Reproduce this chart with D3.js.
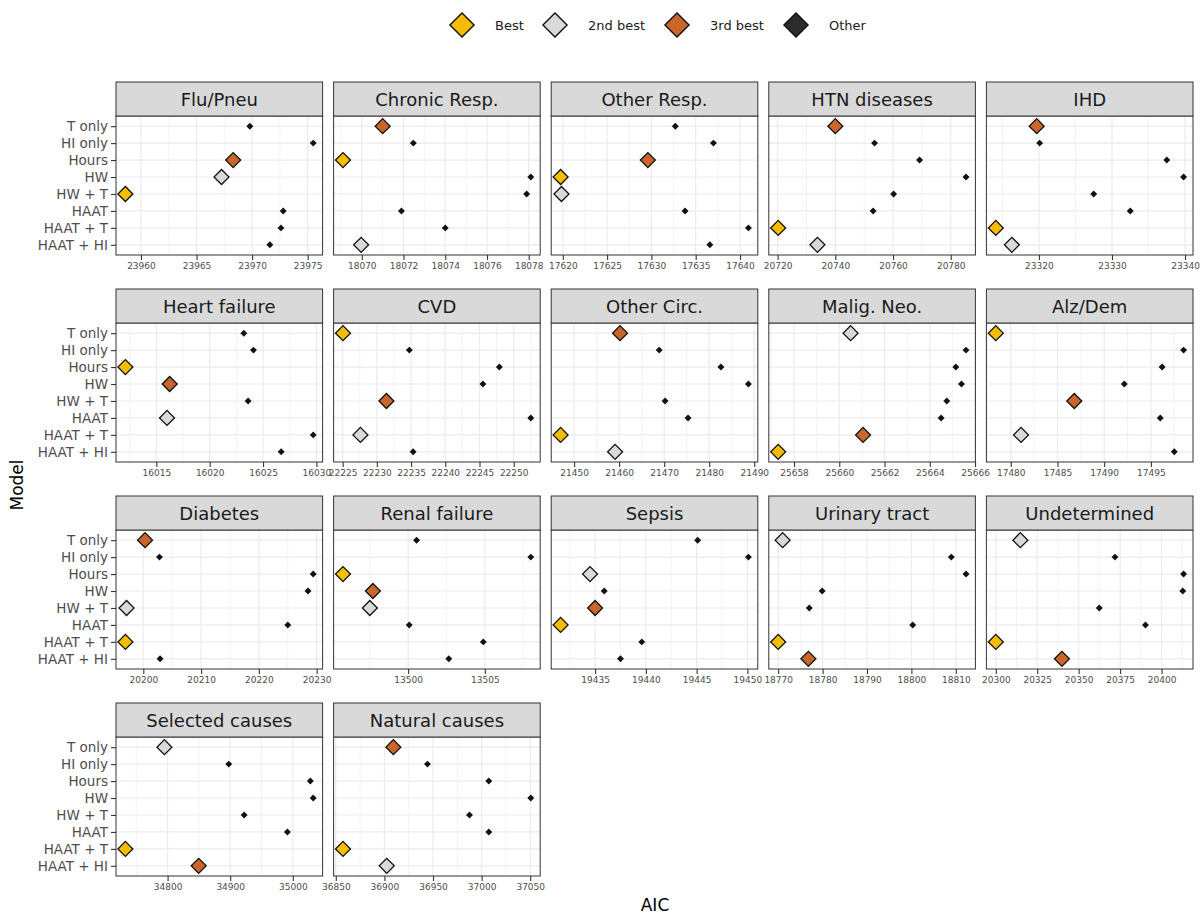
<!DOCTYPE html>
<html>
<head>
<meta charset="utf-8">
<script src="https://cdn.jsdelivr.net/npm/d3@7"></script>
<style>
  body { margin: 0; background: #fff; }
  svg { display: block; font-family: "DejaVu Sans", sans-serif; }
</style>
</head>
<body>
<div id="chart"></div>
<script>
// model names, top to bottom
const models = ['T only', 'HI only', 'Hours', 'HW', 'HW + T', 'HAAT', 'HAAT + T', 'HAAT + HI'];

const causes = ['Flu/Pneu', 'Chronic Resp.', 'Other Resp.', 'HTN diseases', 'IHD',
    'Heart failure', 'CVD', 'Other Circ.', 'Malig. Neo.', 'Alz/Dem',
    'Diabetes', 'Renal failure', 'Sepsis', 'Urinary tract', 'Undetermined',
    'Selected causes', 'Natural causes'];

// AIC per model (same order as models)
const aicFluPneu = [23969.8, 23975.5, 23968.3, 23967.25, 23958.6, 23972.8, 23972.6, 23971.6];
const aicChronicResp = [18071.0, 18072.47, 18069.1, 18078.1, 18077.9, 18071.9, 18074.0, 18069.97];
const aicOtherResp = [17632.7, 17637.0, 17629.6, 17619.75, 17619.85, 17633.8, 17640.95, 17636.6];
const aicHtn = [20740.0, 20753.6, 20769.2, 20785.3, 20760.2, 20753.1, 20720.2, 20733.8];
const aicIhd = [23319.7, 23320.1, 23337.5, 23339.8, 23327.5, 23332.5, 23314.1, 23316.3];
const aicHeartFailure = [16023.2, 16024.1, 16012.1, 16016.25, 16023.6, 16016.0, 16029.7, 16026.7];
const aicCvd = [22225.05, 22234.75, 22247.9, 22245.5, 22231.4, 22252.5, 22227.6, 22235.3];
const aicOtherCirc = [21460.2, 21468.9, 21482.6, 21488.7, 21470.2, 21475.3, 21447.0, 21459.1];
const aicMaligNeo = [25660.5, 25665.6, 25665.15, 25665.4, 25664.75, 25664.5, 25661.05, 25657.3];
const aicAlzDem = [17478.4, 17498.5, 17496.2, 17492.15, 17486.8, 17496.0, 17481.1, 17497.5];
const aicDiabetes = [20200.3, 20202.8, 20229.4, 20228.5, 20197.1, 20225.0, 20196.9, 20202.9];
const aicRenal = [13500.55, 13508.0, 13495.75, 13497.7, 13497.5, 13500.07, 13504.9, 13502.65];
const aicSepsis = [19445.1, 19450.1, 19434.5, 19435.9, 19435.0, 19431.6, 19439.6, 19437.5];
const aicUrinary = [18771.0, 18809.0, 18812.3, 18779.9, 18777.0, 18800.3, 18770.0, 18776.8];
const aicUndetermined = [20314.8, 20371.9, 20413.3, 20412.8, 20362.4, 20390.3, 20300.0, 20339.9];
const aicSelected = [34794.9, 34897.7, 35028.0, 35032.6, 34922.3, 34991.4, 34732.6, 34849.7];
const aicNatural = [36909.2, 36944.3, 37007.4, 37050.6, 36987.5, 37007.4, 36857.4, 36902.4];

// x tick labels per panel
const ticksFluPneu = [23960, 23965, 23970, 23975];
const ticksChronicResp = [18070, 18072, 18074, 18076, 18078];
const ticksOtherResp = [17620, 17625, 17630, 17635, 17640];
const ticksHtn = [20720, 20740, 20760, 20780];
const ticksIhd = [23320, 23330, 23340];
const ticksHeartFailure = [16015, 16020, 16025, 16030];
const ticksCvd = [22225, 22230, 22235, 22240, 22245, 22250];
const ticksOtherCirc = [21450, 21460, 21470, 21480, 21490];
const ticksMaligNeo = [25658, 25660, 25662, 25664, 25666];
const ticksAlzDem = [17480, 17485, 17490, 17495];
const ticksDiabetes = [20200, 20210, 20220, 20230];
const ticksRenal = [13500, 13505];
const ticksSepsis = [19435, 19440, 19445, 19450];
const ticksUrinary = [18770, 18780, 18790, 18800, 18810];
const ticksUndetermined = [20300, 20325, 20350, 20375, 20400];
const ticksSelected = [34800, 34900, 35000];
const ticksNatural = [36850, 36900, 36950, 37000, 37050];

const rankNames = ['Best', '2nd best', '3rd best', 'Other'];
const rankColors = ['#F5BD00', '#D9D9D9', '#C8662C', '#2B2B2B'];

const aicByCause = [aicFluPneu, aicChronicResp, aicOtherResp, aicHtn, aicIhd,
    aicHeartFailure, aicCvd, aicOtherCirc, aicMaligNeo, aicAlzDem,
    aicDiabetes, aicRenal, aicSepsis, aicUrinary, aicUndetermined,
    aicSelected, aicNatural];
const ticksByCause = [ticksFluPneu, ticksChronicResp, ticksOtherResp, ticksHtn, ticksIhd,
    ticksHeartFailure, ticksCvd, ticksOtherCirc, ticksMaligNeo, ticksAlzDem,
    ticksDiabetes, ticksRenal, ticksSepsis, ticksUrinary, ticksUndetermined,
    ticksSelected, ticksNatural];

//////////// layout /////////////////
const width = 1201, height = 915;
const panelLeft = 116, panelW = 206.6, colStep = 217.6;
const firstTop = 82, rowStep = 207, stripH = 34, panelH = 139;
const ncol = 5;

const svg = d3.select('#chart').append('svg')
        .attr('width', width)
        .attr('height', height);

const diamond = function (area) {
    return d3.symbol().type(d3.symbolSquare).size(area)();
};

causes.forEach(function (cause, i) {
    let col = i % ncol, row = Math.floor(i / ncol);
    let x0 = panelLeft + col * colStep;
    let top = firstTop + row * rowStep;
    let pTop = top + stripH;
    let vals = aicByCause[i];
    let ticks = ticksByCause[i];

    // rank the models by AIC (lowest = best)
    let order = d3.range(vals.length).sort(function (a, b) { return vals[a] - vals[b]; });
    let rank = vals.map(function () { return 3; });
    order.slice(0, 3).forEach(function (m, k) { rank[m] = k; });
    let pts = models.map(function (m, k) { return {model: m, aic: vals[k], rank: rank[k]}; });

    // ggplot style 5% expansion
    let lo = d3.min(vals), hi = d3.max(vals), pad = (hi - lo) * 0.05;
    let x = d3.scaleLinear().domain([lo - pad, hi + pad]).range([x0, x0 + panelW]);
    let y = d3.scalePoint().domain(models).range([pTop, pTop + panelH]).padding(0.6);

    let g = svg.append('g').attr('class', 'panel');

    g.append('rect')
            .attr('x', x0).attr('y', pTop)
            .attr('width', panelW).attr('height', panelH)
            .attr('fill', '#fff');

    // minor grid: midpoints between breaks
    let step = ticks.length > 1 ? ticks[1] - ticks[0] : 1;
    let minor = d3.range(ticks[0] - step / 2, ticks[ticks.length - 1] + step, step)
            .filter(function (v) { return v > x.domain()[0] && v < x.domain()[1]; });
    g.selectAll('line.minor').data(minor).enter().append('line')
            .attr('class', 'minor')
            .attr('x1', function (d) { return x(d); })
            .attr('x2', function (d) { return x(d); })
            .attr('y1', pTop).attr('y2', pTop + panelH)
            .attr('stroke', '#EBEBEB').attr('stroke-width', 0.6);
    g.selectAll('line.vmajor').data(ticks).enter().append('line')
            .attr('class', 'vmajor')
            .attr('x1', function (d) { return x(d); })
            .attr('x2', function (d) { return x(d); })
            .attr('y1', pTop).attr('y2', pTop + panelH)
            .attr('stroke', '#EBEBEB').attr('stroke-width', 1.2);
    g.selectAll('line.hmajor').data(models).enter().append('line')
            .attr('class', 'hmajor')
            .attr('x1', x0).attr('x2', x0 + panelW)
            .attr('y1', function (d) { return y(d); })
            .attr('y2', function (d) { return y(d); })
            .attr('stroke', '#EBEBEB').attr('stroke-width', 1.2);

    // points: others small, ranked ones big on top
    g.selectAll('path.other').data(pts.filter(function (d) { return d.rank === 3; }))
            .enter().append('path')
            .attr('class', 'other')
            .attr('d', diamond(24))
            .attr('transform', function (d) { return 'translate(' + x(d.aic) + ',' + y(d.model) + ') rotate(45)'; })
            .attr('fill', '#111');
    g.selectAll('path.ranked').data(pts.filter(function (d) { return d.rank < 3; }))
            .enter().append('path')
            .attr('class', 'ranked')
            .attr('d', diamond(112))
            .attr('transform', function (d) { return 'translate(' + x(d.aic) + ',' + y(d.model) + ') rotate(45)'; })
            .attr('fill', function (d) { return rankColors[d.rank]; })
            .attr('stroke', '#111').attr('stroke-width', 1.3);

    g.append('rect')
            .attr('x', x0).attr('y', pTop)
            .attr('width', panelW).attr('height', panelH)
            .attr('fill', 'none').attr('stroke', '#333').attr('stroke-width', 1);

    // strip
    g.append('rect')
            .attr('x', x0).attr('y', top)
            .attr('width', panelW).attr('height', stripH)
            .attr('fill', '#D9D9D9').attr('stroke', '#333').attr('stroke-width', 1);
    g.append('text')
            .attr('x', x0 + panelW / 2).attr('y', top + stripH / 2)
            .attr('text-anchor', 'middle')
            .attr('dominant-baseline', 'central')
            .attr('font-size', '18px')
            .attr('fill', '#1A1A1A')
            .text(cause);

    // x axis
    let xa = g.append('g')
            .attr('transform', 'translate(0,' + (pTop + panelH) + ')')
            .call(d3.axisBottom(x).tickValues(ticks).tickSize(5).tickPadding(3).tickFormat(d3.format('d')));
    xa.select('.domain').remove();
    xa.selectAll('line').attr('stroke', '#333').attr('stroke-width', 1.1);
    xa.selectAll('text').attr('font-size', '9px').attr('fill', '#4D4D4D').attr('font-family', 'DejaVu Sans');

    // y axis on first column only
    if (col === 0) {
        let ya = g.append('g')
                .attr('transform', 'translate(' + x0 + ',0)')
                .call(d3.axisLeft(y).tickSize(5).tickPadding(3));
        ya.select('.domain').remove();
        ya.selectAll('line').attr('stroke', '#333').attr('stroke-width', 1.1);
        ya.selectAll('text').attr('font-size', '13.5px').attr('fill', '#4D4D4D').attr('font-family', 'DejaVu Sans');
    }
});

//////////// axis titles /////////////////
svg.append('text')
        .attr('x', 655).attr('y', 911)
        .attr('text-anchor', 'middle')
        .attr('font-size', '17px')
        .attr('fill', '#000')
        .text('AIC');
svg.append('text')
        .attr('transform', 'translate(23,485) rotate(-90)')
        .attr('text-anchor', 'middle')
        .attr('font-size', '17px')
        .attr('fill', '#000')
        .text('Model');

//////////// legend /////////////////
const legendX = [462, 555, 677, 796];
const legend = svg.append('g').attr('class', 'legend-group');
rankNames.forEach(function (name, k) {
    legend.append('path')
            .attr('d', diamond(290))
            .attr('transform', 'translate(' + legendX[k] + ',25) rotate(45)')
            .attr('fill', rankColors[k])
            .attr('stroke', '#111').attr('stroke-width', 1.4);
    legend.append('text')
            .attr('x', legendX[k] + 33).attr('y', 25)
            .attr('dominant-baseline', 'central')
            .attr('font-size', '13px')
            .attr('fill', '#1A1A1A')
            .text(name);
});
</script>
</body>
</html>
